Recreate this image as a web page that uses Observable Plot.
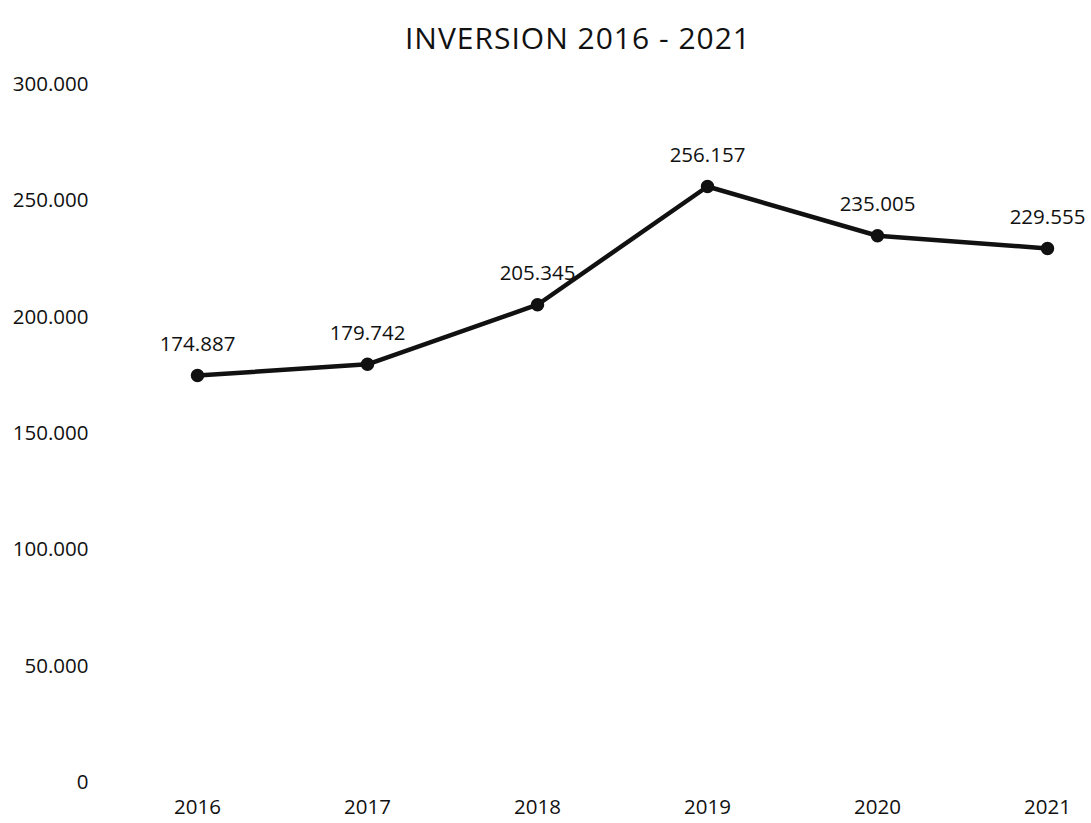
<!DOCTYPE html>
<html>
<head>
<meta charset="utf-8">
<script src="https://cdn.jsdelivr.net/npm/d3@7"></script>
<script src="https://cdn.jsdelivr.net/npm/@observablehq/plot@0.6"></script>
<style>
  html, body { margin: 0; padding: 0; background: #fff; }
  #wrap { position: relative; width: 1091px; height: 823px; font-family: "Open Sans", sans-serif; }
  #title { position: absolute; left: 0; width: 1156px; top: 17px; text-align: center; font-size: 30px; color: #111; letter-spacing: 1px; line-height: 42px; }
  #chart { position: absolute; left: 0; top: 0; }
</style>
</head>
<body>
<div id="wrap">
  <div id="chart"></div>
  <div id="title">INVERSION 2016 - 2021</div>
</div>
<script>
const years = ["2016", "2017", "2018", "2019", "2020", "2021"];
const values = [174887, 179742, 205345, 256157, 235005, 229555];
const yTicks = [0, 50000, 100000, 150000, 200000, 250000, 300000];

const data = years.map((y, i) => ({year: y, value: values[i]}));
const loc = d3.formatLocale({decimal: ",", thousands: ".", grouping: [3], currency: ["", ""]});
const fmt = loc.format(",");

const chart = Plot.plot({
  width: 1091,
  height: 823,
  marginTop: 84,
  marginBottom: 41,
  marginLeft: 196,
  marginRight: 43,
  style: {fontFamily: "Open Sans, sans-serif", fontSize: "20px", color: "#111", background: "#fff", overflow: "visible"},
  x: {type: "point", domain: years, padding: 0},
  y: {domain: [0, 300000]},
  marks: [
    Plot.axisY({ticks: yTicks, tickFormat: fmt, tickSize: 0, tickPadding: 108, label: null, fontSize: 20.5}),
    Plot.axisX({tickSize: 0, tickPadding: 17, label: null, fontSize: 20.5}),
    Plot.line(data, {x: "year", y: "value", stroke: "#111", strokeWidth: 4.5}),
    Plot.dot(data, {x: "year", y: "value", r: 6, fill: "#111", stroke: "#111"}),
    Plot.text(data, {x: "year", y: "value", text: d => fmt(d.value), dy: -31, fontSize: 20.5, fill: "#111"})
  ]
});
document.getElementById("chart").appendChild(chart);
</script>
</body>
</html>
